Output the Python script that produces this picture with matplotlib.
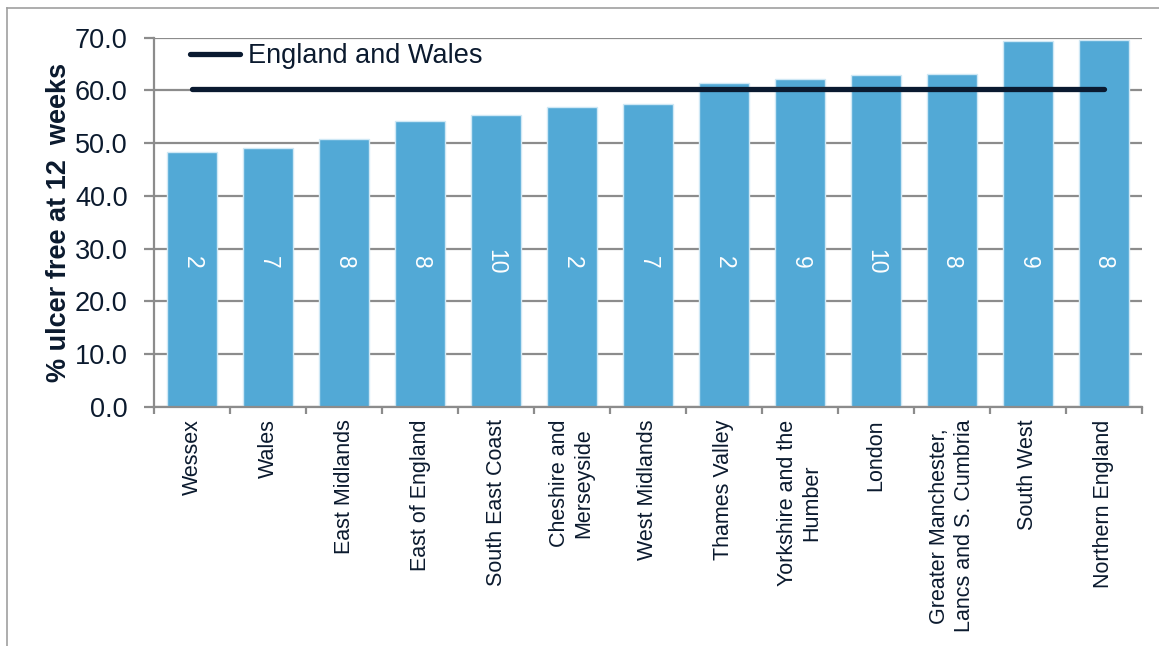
import matplotlib
matplotlib.use("Agg")
import matplotlib.pyplot as plt
from matplotlib.lines import Line2D

plt.rcParams["font.family"] = ["Liberation Sans", "DejaVu Sans"]

regions = [
    "Wessex",
    "Wales",
    "East Midlands",
    "East of England",
    "South East Coast",
    "Cheshire and\nMerseyside",
    "West Midlands",
    "Thames Valley",
    "Yorkshire and the\nHumber",
    "London",
    "Greater Manchester,\nLancs and S. Cumbria",
    "South West",
    "Northern England",
]
ulcer_free = [48.4, 49.1, 50.8, 54.3, 55.4, 56.9, 57.5, 61.5, 62.2, 63.0, 63.2, 69.4, 69.6]
n_units = [2, 7, 8, 8, 10, 2, 7, 2, 9, 10, 8, 9, 8]
england_wales = 60.3

text_col = "#0b1a2e"
bar_col = "#52a9d6"
grid_col = "#8c8c8c"


def main() -> None:
    fig = plt.figure(figsize=(11.59, 6.46), dpi=100)
    ax = fig.add_axes([0.1329, 0.370, 0.8524, 0.5716])

    x = list(range(len(regions)))
    bars = ax.bar(x, ulcer_free, width=0.67, color=bar_col,
                  edgecolor="#cfe8f5", linewidth=1, zorder=2)

    for rect, n in zip(bars, n_units):
        ax.text(rect.get_x() + rect.get_width() / 2, 27.5, str(n),
                rotation=-90, ha="center", va="center",
                color="white", fontsize=16.5, zorder=3)

    ax.plot(x, [england_wales] * len(x), color="#0a1a30", linewidth=3.8,
            solid_capstyle="round", label="England and Wales", zorder=4)

    ax.set_xlim(-0.5, len(regions) - 0.5)
    ax.set_ylim(0, 70)
    ax.set_yticks(range(0, 71, 10))
    ax.set_yticklabels([f"{v:.1f}" for v in range(0, 71, 10)])
    ax.yaxis.grid(True, color=grid_col, linewidth=1.6, zorder=0)
    ax.set_axisbelow(True)

    ax.set_xticks(x)
    ax.set_xticklabels(regions, rotation=90, ha="center", va="top",
                       multialignment="center", fontsize=15.5, color=text_col)
    ax.tick_params(axis="x", length=0, pad=9)
    ax.set_xticks([i - 0.5 for i in range(len(regions) + 1)], minor=True)
    ax.tick_params(axis="x", which="minor", length=5, width=1.6, color=grid_col)
    ax.tick_params(axis="y", length=7, width=1.6, color=grid_col,
                   labelsize=19.5, labelcolor=text_col, pad=12)

    for side in ("top", "right"):
        ax.spines[side].set_visible(False)
    for side in ("left", "bottom"):
        ax.spines[side].set_color(grid_col)
        ax.spines[side].set_linewidth(1.6)

    ax.set_ylabel("% ulcer free at 12  weeks", fontsize=19.5, fontweight="bold",
                  color=text_col, labelpad=2)

    ax.legend(loc="upper left", bbox_to_anchor=(0.036, 0.985), frameon=False,
              fontsize=19.5, handlelength=1.85, handletextpad=0.3,
              borderpad=0, borderaxespad=0, labelcolor=text_col)

    # outer frame lines
    fig.add_artist(Line2D([0.006, 1.0], [0.988, 0.988], color="#a0a0a0", linewidth=1.2))
    fig.add_artist(Line2D([0.006, 0.006], [0.0, 0.988], color="#a0a0a0", linewidth=1.2))

    fig.savefig("out.png", dpi=100)


if __name__ == "__main__":
    main()
